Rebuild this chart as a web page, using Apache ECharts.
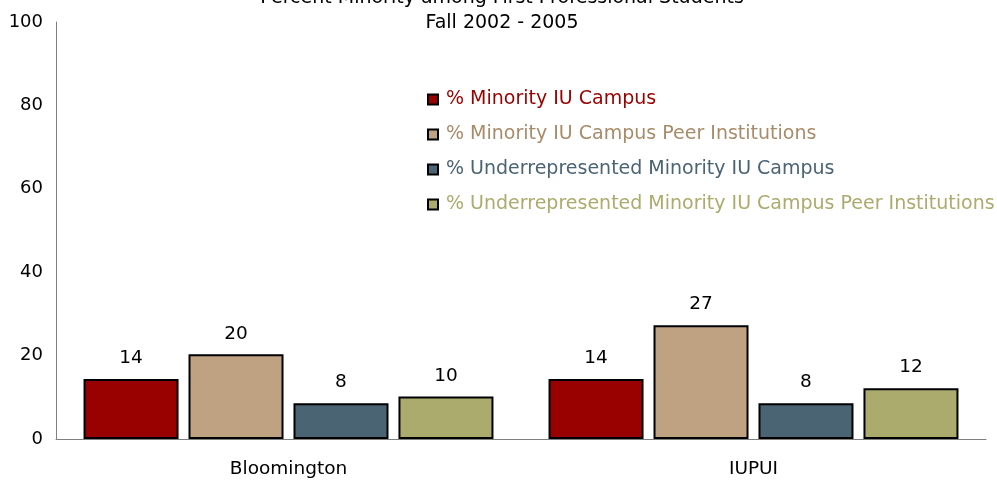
<!DOCTYPE html>
<html><head><meta charset="utf-8">
<script src="https://cdn.jsdelivr.net/npm/echarts@6/dist/echarts.min.js"></script>
<style>html,body{margin:0;padding:0;background:#fff}#c{width:997px;height:481px}</style>
</head><body><div id="c"></div>
<script>
const categories = ['Bloomington', 'IUPUI'];
const seriesNames = ['% Minority IU Campus', '% Minority IU Campus Peer Institutions', '% Underrepresented Minority IU Campus', '% Underrepresented Minority IU Campus Peer Institutions'];
const minorityCampus = [14.4, 14.4];
const minorityPeer = [20.3, 27.3];
const urmCampus = [8.6, 8.6];
const urmPeer = [10.2, 12.2];
const yTicks = [0, 20, 40, 60, 80, 100];

const colors = ['#990000', '#bea282', '#4a6474', '#abab6e'];
const textColors = ['#990000', '#a88b68', '#4a6474', '#abab6e'];
const values = [minorityCampus, minorityPeer, urmCampus, urmPeer];
const FONT = 'DejaVu Sans';

const chart = echarts.init(document.getElementById('c'));
chart.setOption({
  animation: false,
  textStyle: { fontFamily: FONT },
  title: {
    text: 'Percent Minority among First Professional Students\nFall 2002 - 2005',
    left: 497, top: -19, textAlign: 'center',
    textStyle: { fontFamily: FONT, fontSize: 19, fontWeight: 'normal', color: '#000', lineHeight: 25 }
  },
  legend: {
    orient: 'vertical', left: 422, top: 85, itemGap: 16,
    itemWidth: 10, itemHeight: 10, icon: 'rect',
    itemStyle: { borderColor: '#000', borderWidth: 2 },
    textStyle: { fontFamily: FONT, fontSize: 19, padding: [0, 0, 0, 3] },
    data: seriesNames.map((n, i) => ({ name: n, textStyle: { color: textColors[i] } }))
  },
  grid: { left: 56, right: 11, top: 22, bottom: 42 },
  xAxis: {
    type: 'category', data: categories,
    axisLine: { lineStyle: { color: '#808080', width: 1 } },
    axisTick: { show: false },
    axisLabel: { fontFamily: FONT, fontSize: 18.5, color: '#000', margin: 21 }
  },
  yAxis: {
    type: 'value', min: yTicks[0], max: yTicks[yTicks.length - 1], interval: 20,
    splitLine: { show: false },
    axisLine: { show: true, lineStyle: { color: '#808080', width: 1 } },
    axisTick: { show: false },
    axisLabel: { fontFamily: FONT, fontSize: 18, color: '#000', margin: 13 }
  },
  series: seriesNames.map((n, i) => ({
    name: n, type: 'bar', data: values[i],
    barWidth: 95, barGap: '10.5%', barCategoryGap: '0%',
    itemStyle: { color: colors[i], borderColor: '#000', borderWidth: 2 },
    label: { show: true, position: 'top', distance: 11, color: '#000', fontFamily: FONT, fontSize: 18.5,
      formatter: p => Math.floor(p.value) }
  }))
});
</script></body></html>
